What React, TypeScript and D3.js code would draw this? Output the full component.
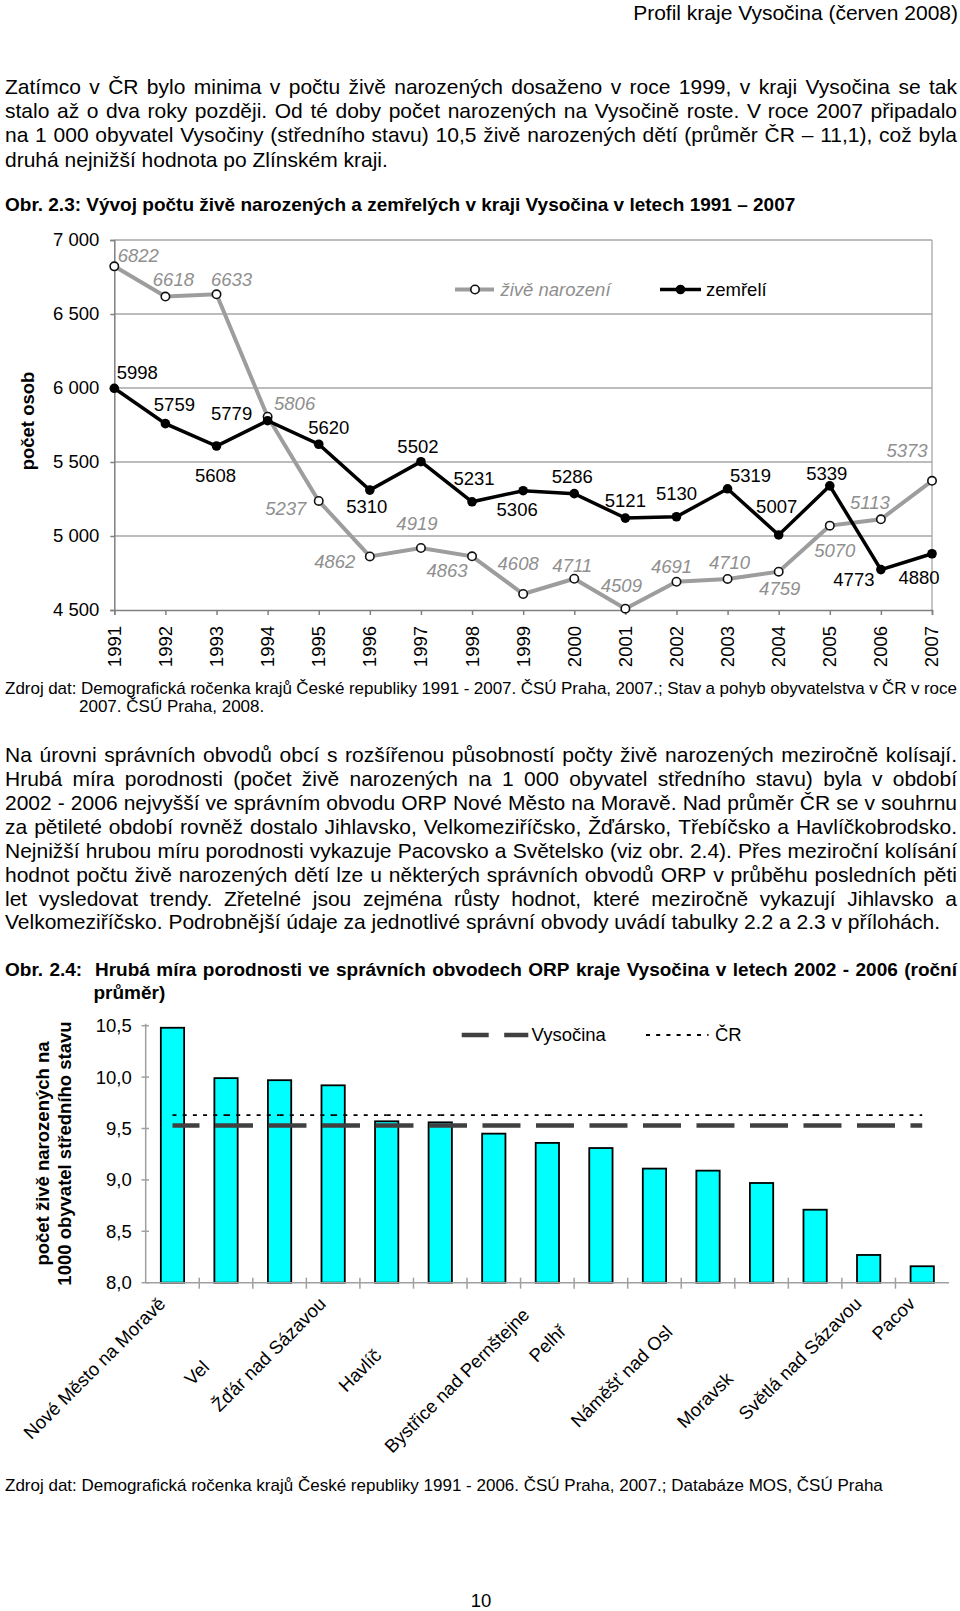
import { useEffect, useRef } from 'react'
import * as d3 from 'd3'

const W = 960
const H = 1611
const FONT = '"Liberation Sans", Arial, Helvetica, sans-serif'

const headerText = 'Profil kraje Vysočina (červen 2008)'
const para1 = [
  'Zatímco v ČR bylo minima v počtu živě narozených dosaženo v roce 1999, v kraji Vysočina se tak',
  'stalo až o dva roky později. Od té doby počet narozených na Vysočině roste. V roce 2007 připadalo',
  'na 1 000 obyvatel Vysočiny (středního stavu) 10,5 živě narozených dětí (průměr ČR – 11,1), což byla',
  'druhá nejnižší hodnota po Zlínském kraji.',
]
const caption1 = 'Obr. 2.3: Vývoj počtu živě narozených a zemřelých v kraji Vysočina v letech 1991 – 2007'
const source1 = [
  'Zdroj dat: Demografická ročenka krajů České republiky 1991 - 2007. ČSÚ Praha, 2007.; Stav a pohyb obyvatelstva v ČR v roce',
  '2007. ČSÚ Praha, 2008.',
]
const para2 = [
  'Na úrovni správních obvodů obcí s rozšířenou působností počty živě narozených meziročně kolísají.',
  'Hrubá míra porodnosti (počet živě narozených na 1 000 obyvatel středního stavu) byla v období',
  '2002 - 2006 nejvyšší ve správním obvodu ORP Nové Město na Moravě. Nad průměr ČR se v souhrnu',
  'za pětileté období rovněž dostalo Jihlavsko, Velkomeziříčsko, Žďársko, Třebíčsko a Havlíčkobrodsko.',
  'Nejnižší hrubou míru porodnosti vykazuje Pacovsko a Světelsko (viz obr. 2.4). Přes meziroční kolísání',
  'hodnot počtu živě narozených dětí lze u některých správních obvodů ORP v průběhu posledních pěti',
  'let vysledovat trendy. Zřetelné jsou zejména růsty hodnot, které meziročně vykazují Jihlavsko a',
  'Velkomeziříčsko. Podrobnější údaje za jednotlivé správní obvody uvádí tabulky 2.2 a 2.3 v přílohách.',
]
const caption2 = [
  'Obr. 2.4:  Hrubá míra porodnosti ve správních obvodech ORP kraje Vysočina v letech 2002 - 2006 (roční',
  'průměr)',
]
const source2 = 'Zdroj dat: Demografická ročenka krajů České republiky 1991 - 2006. ČSÚ Praha, 2007.; Databáze MOS, ČSÚ Praha'
const pageNumber = '10'

// Obr. 2.3
const years = [1991, 1992, 1993, 1994, 1995, 1996, 1997, 1998, 1999, 2000, 2001, 2002, 2003, 2004, 2005, 2006, 2007]
const born = [6822, 6618, 6633, 5806, 5237, 4862, 4919, 4863, 4608, 4711, 4509, 4691, 4710, 4759, 5070, 5113, 5373]
const deaths = [5998, 5759, 5608, 5779, 5620, 5310, 5502, 5231, 5306, 5286, 5121, 5130, 5319, 5007, 5339, 4773, 4880]
const popTicks = [4500, 5000, 5500, 6000, 6500, 7000]
const bornName = 'živě narození'
const deathName = 'zemřelí'

// Obr. 2.4
const orpNames = [
  'Nové Město na Moravě', 'Jihlava', 'Velké Meziříčí', 'Žďár nad Sázavou', 'Třebíč',
  'Havlíčkův Brod', 'Humpolec', 'Bystřice nad Pernštejnem', 'Pelhřimov', 'Chotěboř',
  'Náměšť nad Oslavou', 'Telč', 'Moravské Budějovice', 'Světlá nad Sázavou', 'Pacov',
]
// how many characters of each label survived in the printed chart
const orpVisibleChars = [20, 0, 3, 16, 0, 6, 0, 23, 5, 0, 14, 0, 7, 18, 5]
const birthRate = [10.48, 9.99, 9.97, 9.92, 9.57, 9.56, 9.45, 9.36, 9.31, 9.11, 9.09, 8.97, 8.71, 8.27, 8.16]
const vysocinaRate = 9.53
const crRate = 9.63
const rateTicks = [8, 8.5, 9, 9.5, 10, 10.5]

// hand placed data labels (offset from the point, px)
const bornLabelPos = [
  [24, -11], [8, -17], [15, -15], [27, -13], [-33, 8], [-35, 5], [-4, -24], [-25, 14], [-5, -30],
  [-2, -13], [-4, -23], [-5, -15], [2, -16], [1, 17], [5, 25], [-11, -17], [-25, -30],
]
const deathLabelPos = [
  [23, -16], [9, -19], [-1, 30], [-36, -7], [10, -17], [-3, 16], [-3, -15], [2, -23], [-6, 19],
  [-2, -17], [0, -18], [0, -23], [23, -13], [-2, -28], [-3, -12], [-27, 10], [-13, 24],
]

export default function App() {
  const svgRef = useRef<SVGSVGElement>(null)

  useEffect(() => {
    if (!svgRef.current) return
    const svg = d3.select(svgRef.current)
    svg.selectAll('*').remove()
    svg.append('rect').attr('width', W).attr('height', H).attr('fill', '#fff')

    const TXT = 21
    const AX = 18.5

    // one line of text; if width is given the words are spread to fill it
    const line = (str: string, x: number, cy: number, size: number, width = 0, weight = 'normal') => {
      const t = svg
        .append('text')
        .attr('y', cy + size * 0.35)
        .attr('font-size', size)
        .attr('font-weight', weight)
        .attr('fill', '#000')
      if (!width) {
        t.attr('x', x).text(str)
        return t
      }
      const words = str.split(' ')
      const spans = words.map((w) => t.append('tspan').text(w))
      const widths = spans.map((s) => (s.node() as SVGTSpanElement).getComputedTextLength())
      const gap = (width - d3.sum(widths)) / (words.length - 1)
      let cx = x
      spans.forEach((s, i) => {
        s.attr('x', cx)
        cx += widths[i] + gap
      })
      return t
    }

    line(headerText, 958, 12.3, TXT).attr('text-anchor', 'end')
    para1.forEach((s, i) => line(s, 5, 86.4 + i * 24.3, TXT, i < para1.length - 1 ? 952 : 0))
    line(caption1, 5, 204.6, 19, 0, 'bold')

    // ---------- Obr. 2.3 line chart ----------
    const x = d3.scalePoint<number>().domain(years).range([114.3, 932])
    const y = d3.scaleLinear().domain([4500, 7000]).range([610, 240])
    const g1 = svg.append('g')

    g1.selectAll('.grid')
      .data(popTicks.slice(1))
      .enter()
      .append('line')
      .attr('x1', x(1991)!)
      .attr('x2', x(2007)!)
      .attr('y1', (d) => y(d))
      .attr('y2', (d) => y(d))
      .attr('stroke', '#a6a6a6')
      .attr('stroke-width', 1.3)
    g1.append('line')
      .attr('x1', x(2007)!)
      .attr('x2', x(2007)!)
      .attr('y1', y(7000))
      .attr('y2', y(4500))
      .attr('stroke', '#a6a6a6')
      .attr('stroke-width', 1.3)

    const yAxis = g1
      .append('g')
      .attr('transform', `translate(${x(1991)},0)`)
      .call(d3.axisLeft(y).tickValues(popTicks).tickSize(4).tickPadding(11).tickFormat((d) => d3.format(',')(d as number).replace(',', ' ')))
    yAxis.selectAll('path,line').attr('stroke', '#808080').attr('stroke-width', 1.5)
    yAxis.selectAll('text').attr('font-size', AX).attr('font-family', FONT).attr('fill', '#000')

    const xAxis = g1
      .append('g')
      .attr('transform', `translate(0,${y(4500)})`)
      .call(d3.axisBottom(x).tickSize(5).tickFormat(() => ''))
    xAxis.selectAll('path,line').attr('stroke', '#808080').attr('stroke-width', 1.5)
    g1.selectAll('.yr')
      .data(years)
      .enter()
      .append('text')
      .attr('transform', (d) => `translate(${x(d)},626) rotate(-90)`)
      .attr('text-anchor', 'end')
      .attr('dy', '0.35em')
      .attr('font-size', AX)
      .text((d) => d)

    g1.append('text')
      .attr('transform', 'translate(28,421) rotate(-90)')
      .attr('text-anchor', 'middle')
      .attr('dy', '0.35em')
      .attr('font-size', AX)
      .attr('font-weight', 'bold')
      .text('počet osob')

    const path = d3
      .line<number>()
      .x((_, i) => x(years[i])!)
      .y((d) => y(d))

    g1.append('path').datum(born).attr('d', path).attr('fill', 'none').attr('stroke', '#9d9d9d').attr('stroke-width', 4)
    g1.selectAll('.bm')
      .data(born)
      .enter()
      .append('circle')
      .attr('cx', (_, i) => x(years[i])!)
      .attr('cy', (d) => y(d))
      .attr('r', 4.2)
      .attr('fill', '#fff')
      .attr('stroke', '#111')
      .attr('stroke-width', 1.6)

    g1.append('path').datum(deaths).attr('d', path).attr('fill', 'none').attr('stroke', '#000').attr('stroke-width', 3.5)
    g1.selectAll('.dm')
      .data(deaths)
      .enter()
      .append('circle')
      .attr('cx', (_, i) => x(years[i])!)
      .attr('cy', (d) => y(d))
      .attr('r', 4.8)
      .attr('fill', '#000')

    g1.selectAll('.bl')
      .data(born)
      .enter()
      .append('text')
      .attr('x', (_, i) => x(years[i])! + bornLabelPos[i][0])
      .attr('y', (d, i) => y(d) + bornLabelPos[i][1])
      .attr('dy', '0.35em')
      .attr('text-anchor', 'middle')
      .attr('font-size', AX)
      .attr('font-style', 'italic')
      .attr('fill', '#8f8f8f')
      .text((d) => d)
    g1.selectAll('.dl')
      .data(deaths)
      .enter()
      .append('text')
      .attr('x', (_, i) => x(years[i])! + deathLabelPos[i][0])
      .attr('y', (d, i) => y(d) + deathLabelPos[i][1])
      .attr('dy', '0.35em')
      .attr('text-anchor', 'middle')
      .attr('font-size', AX)
      .attr('fill', '#000')
      .text((d) => d)

    // legend
    const ly = 289.5
    g1.append('line').attr('x1', 455).attr('x2', 494).attr('y1', ly).attr('y2', ly).attr('stroke', '#9d9d9d').attr('stroke-width', 4)
    g1.append('circle').attr('cx', 475).attr('cy', ly).attr('r', 4.2).attr('fill', '#fff').attr('stroke', '#111').attr('stroke-width', 1.6)
    g1.append('text').attr('x', 500.5).attr('y', ly).attr('dy', '0.35em').attr('font-size', AX).attr('font-style', 'italic').attr('fill', '#8f8f8f').text(bornName)
    g1.append('line').attr('x1', 660).attr('x2', 701).attr('y1', ly).attr('y2', ly).attr('stroke', '#000').attr('stroke-width', 3.5)
    g1.append('circle').attr('cx', 680.5).attr('cy', ly).attr('r', 4.8).attr('fill', '#000')
    g1.append('text').attr('x', 706).attr('y', ly).attr('dy', '0.35em').attr('font-size', AX).text(deathName)

    line(source1[0], 5, 687.7, 17, 952)
    line(source1[1], 79, 706.2, 17)
    para2.forEach((s, i) => line(s, 5, 754.6 + i * 23.93, TXT, i < para2.length - 1 ? 952 : 0))
    line(caption2[0], 5, 969.4, 19, 952, 'bold')
    line(caption2[1], 93.5, 992, 19, 0, 'bold')

    // ---------- Obr. 2.4 bar chart ----------
    const pad = 0.565
    const xb = d3.scaleBand<string>().domain(orpNames).range([145.7, 949]).paddingInner(pad).paddingOuter(pad / 2)
    const yb = d3.scaleLinear().domain([8, 10.5]).range([1282.7, 1025.7])
    const g2 = svg.append('g')
    const cx = (n: string) => xb(n)! + xb.bandwidth() / 2

    g2.selectAll('.bar')
      .data(birthRate)
      .enter()
      .append('rect')
      .attr('x', (_, i) => xb(orpNames[i])!)
      .attr('y', (d) => yb(d))
      .attr('width', xb.bandwidth())
      .attr('height', (d) => yb(8) - yb(d))
      .attr('fill', '#00ffff')
      .attr('stroke', '#000')
      .attr('stroke-width', 1.8)

    const axisColor = '#a0a0a0'
    g2.append('line').attr('x1', 145.7).attr('x2', 145.7).attr('y1', yb(10.5) - 2).attr('y2', yb(8)).attr('stroke', axisColor).attr('stroke-width', 1.5)
    g2.append('line').attr('x1', 145.7).attr('x2', 949).attr('y1', yb(8)).attr('y2', yb(8)).attr('stroke', axisColor).attr('stroke-width', 1.5)
    g2.selectAll('.yt')
      .data(rateTicks)
      .enter()
      .append('line')
      .attr('x1', 141.5)
      .attr('x2', 149)
      .attr('y1', (d) => yb(d))
      .attr('y2', (d) => yb(d))
      .attr('stroke', axisColor)
      .attr('stroke-width', 1.5)
    g2.selectAll('.ytl')
      .data(rateTicks)
      .enter()
      .append('text')
      .attr('x', 131.7)
      .attr('y', (d) => yb(d))
      .attr('dy', '0.35em')
      .attr('text-anchor', 'end')
      .attr('font-size', AX)
      .text((d) => d3.format('.1f')(d).replace('.', ','))
    const bounds = orpNames.map((n) => cx(n) - xb.step() / 2).concat([cx(orpNames[orpNames.length - 1]) + xb.step() / 2])
    g2.selectAll('.xt')
      .data(bounds.slice(1, -1))
      .enter()
      .append('line')
      .attr('x1', (d) => d)
      .attr('x2', (d) => d)
      .attr('y1', yb(8) - 5)
      .attr('y2', yb(8) + 6)
      .attr('stroke', axisColor)
      .attr('stroke-width', 1.5)

    // rotated category labels; the part lost in print is kept as invisible text
    orpNames.forEach((n, i) => {
      const t = g2
        .append('text')
        .attr('transform', `translate(${cx(n) - 6},1305) rotate(-45)`)
        .attr('text-anchor', 'end')
        .attr('font-size', AX)
      t.append('tspan').text(n.slice(0, orpVisibleChars[i]))
      t.append('tspan').attr('fill-opacity', 0).text(n.slice(orpVisibleChars[i]))
    })

    const yTitle = ['počet živě narozených na', '1000 obyvatel středního stavu']
    yTitle.forEach((s, i) => {
      g2.append('text')
        .attr('transform', `translate(${42.7 + i * 22.3},1153.5) rotate(-90)`)
        .attr('text-anchor', 'middle')
        .attr('dy', '0.35em')
        .attr('font-size', AX)
        .attr('font-weight', 'bold')
        .text(s)
    })

    const first = cx(orpNames[0])
    const last = cx(orpNames[orpNames.length - 1])
    const vysStyle = (sel: d3.Selection<SVGLineElement, unknown, null, undefined>) =>
      sel.attr('stroke', '#404040').attr('stroke-width', 4.5).attr('stroke-dasharray', '38 15.5').attr('stroke-dashoffset', 11)
    g2.append('line').attr('x1', first).attr('x2', last).attr('y1', yb(vysocinaRate)).attr('y2', yb(vysocinaRate)).call(vysStyle)

    // ČR line: dash pattern restarts at every category point
    const crStyle = (sel: d3.Selection<SVGLineElement, any, any, any>) =>
      sel.attr('stroke', '#000').attr('stroke-width', 1.8).attr('stroke-dasharray', '4 6.2')
    g2.selectAll('.cr')
      .data(orpNames.slice(0, -1))
      .enter()
      .append('line')
      .attr('x1', (d) => cx(d))
      .attr('x2', (_, i) => cx(orpNames[i + 1]))
      .attr('y1', yb(crRate))
      .attr('y2', yb(crRate))
      .call(crStyle)

    const ly2 = 1035
    g2.append('line').attr('x1', 461.7).attr('x2', 528.3).attr('y1', ly2).attr('y2', ly2).call(vysStyle)
    g2.append('text').attr('x', 531.5).attr('y', ly2).attr('dy', '0.35em').attr('font-size', AX).text('Vysočina')
    g2.append('line').attr('x1', 646).attr('x2', 708.5).attr('y1', ly2).attr('y2', ly2).call(crStyle)
    g2.append('text').attr('x', 715).attr('y', ly2).attr('dy', '0.35em').attr('font-size', AX).text('ČR')

    line(source2, 5, 1485.5, 17)
    line(pageNumber, 481, 1601, AX).attr('text-anchor', 'middle')
  }, [])

  return (
    <div style={{ position: 'absolute', left: 0, top: 0 }}>
      <svg ref={svgRef} width={W} height={H} style={{ display: 'block', fontFamily: FONT }} />
    </div>
  )
}
